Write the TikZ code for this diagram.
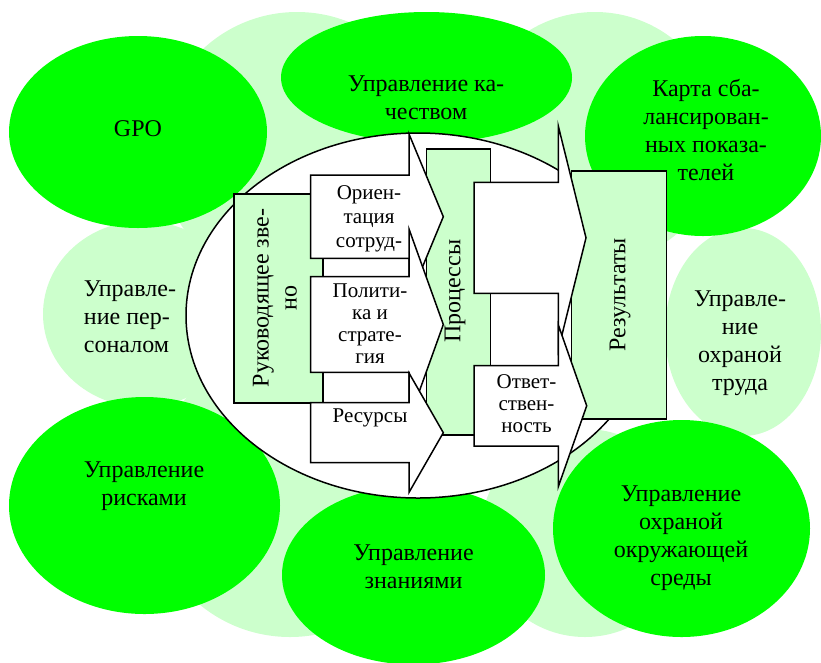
\documentclass[tikz,border=0pt]{standalone}
\usepackage{fontspec}
\setmainfont{Liberation Serif}
\newfontfamily\timesface{Liberation Serif}

\definecolor{darkleaf}{RGB}{0,255,0}
\definecolor{paleleaf}{RGB}{204,255,204}

\begin{document}
\begin{tikzpicture}[x=1pt, y=-1pt,
    outline/.style={draw=black, line width=1.5pt},
    bigtext/.style={font=\timesface\fontsize{24}{28}\selectfont, align=center},
    smalltext/.style={font=\timesface\fontsize{21}{22}\selectfont, align=center}]

    \useasboundingbox (0,0) rectangle (821,662);

    % Pale circles of the outer ring
    \fill[paleleaf] (297,150) ellipse [x radius=138, y radius=138];
    \fill[paleleaf] (595,138) ellipse [x radius=126, y radius=126];
    \fill[paleleaf] (290,495) ellipse [x radius=142, y radius=142];
    \fill[paleleaf] (585,533) ellipse [x radius=104, y radius=104];
    \fill[paleleaf] (143,314) ellipse [x radius=100, y radius=93];
    \fill[paleleaf] (743,332) ellipse [x radius=78, y radius=104];

    % Bright circles of the outer ring
    \fill[darkleaf] (138,132) ellipse [x radius=129, y radius=96];
    \fill[darkleaf] (426.5,77.5) ellipse [x radius=145.5, y radius=65.5];
    \fill[darkleaf] (703,136) ellipse [x radius=118, y radius=100];
    \fill[darkleaf] (144.5,505.5) ellipse [x radius=135.5, y radius=108.5];
    \fill[darkleaf] (413.5,575) ellipse [x radius=131.5, y radius=89.5];
    \fill[darkleaf] (681.5,528.5) ellipse [x radius=128.5, y radius=108.5];

    % Labels of the outer ring
    \node[bigtext] (gpo) at (138,129) {GPO};
    \node[bigtext] (quality) at (426,98) {Управление ка-\\чеством};
    \node[bigtext] (scorecard) at (706,130) {Карта сба-\\лансирован-\\ных показа-\\телей};
    \node[bigtext, align=left] (staff) at (130,317) {Управле-\\ние пер-\\соналом};
    \node[bigtext] (labour) at (740,343) {Управле-\\ние\\охраной\\труда};
    \node[bigtext] (risk) at (144,486) {Управление\\рисками};
    \node[bigtext] (knowledge) at (413.5,567) {Управление\\знаниями};
    \node[bigtext] (environment) at (681,538) {Управление\\охраной\\окружающей\\среды};

    % Central oval
    \filldraw[fill=white, outline] (418,315.5) ellipse [x radius=232, y radius=182.5];

    % Boxes
    \filldraw[fill=paleleaf, outline] (234,194) rectangle (323,403);
    \filldraw[fill=paleleaf, outline] (426.7,149) rectangle (490.7,435);
    \filldraw[fill=paleleaf, outline] (571.7,171) rectangle (666.7,419);

    \node[bigtext, rotate=90] (leader) at (275,298) {Руководящее зве-\\но};
    \node[bigtext, rotate=90] (processes) at (455,291) {Процессы};
    \node[bigtext, rotate=90] (results) at (620,295) {Результаты};

    % Block arrows into the processes
    \filldraw[fill=white, outline] (310.7,175) -- (409,175) -- (409,134) -- (443.3,216.7)
        -- (409,299.4) -- (409,258.3) -- (310.7,258.3) -- cycle;
    \node[smalltext, font=\timesface\fontsize{21}{24}\selectfont] (orient) at (369,219) {Ориен-\\тация\\сотруд-};

    \filldraw[fill=white, outline] (310.7,276.7) -- (409,276.7) -- (409,229) -- (443.3,324.5)
        -- (409,420) -- (409,372.3) -- (310.7,372.3) -- cycle;
    \node[smalltext] (policy) at (370,324) {Полити-\\ка и\\страте-\\гия};

    \filldraw[fill=white, outline] (310.7,402.7) -- (409,402.7) -- (409,373) -- (443.3,432.7)
        -- (409,492.4) -- (409,462.7) -- (310.7,462.7) -- cycle;
    \node[smalltext] (resources) at (370,418) {Ресурсы};

    % Block arrows into the results
    \filldraw[fill=white, outline] (474,182.3) -- (558.3,182.3) -- (558.3,126) -- (586,237.8)
        -- (558.3,349.6) -- (558.3,293.3) -- (474,293.3) -- cycle;

    \filldraw[fill=white, outline] (474,365.7) -- (558.3,365.7) -- (558.3,324.9) -- (586.7,405.8)
        -- (558.3,486.7) -- (558.3,446) -- (474,446) -- cycle;
    \node[smalltext] (duty) at (526.5,404) {Ответ-\\ствен-\\ность};

\end{tikzpicture}
\end{document}
